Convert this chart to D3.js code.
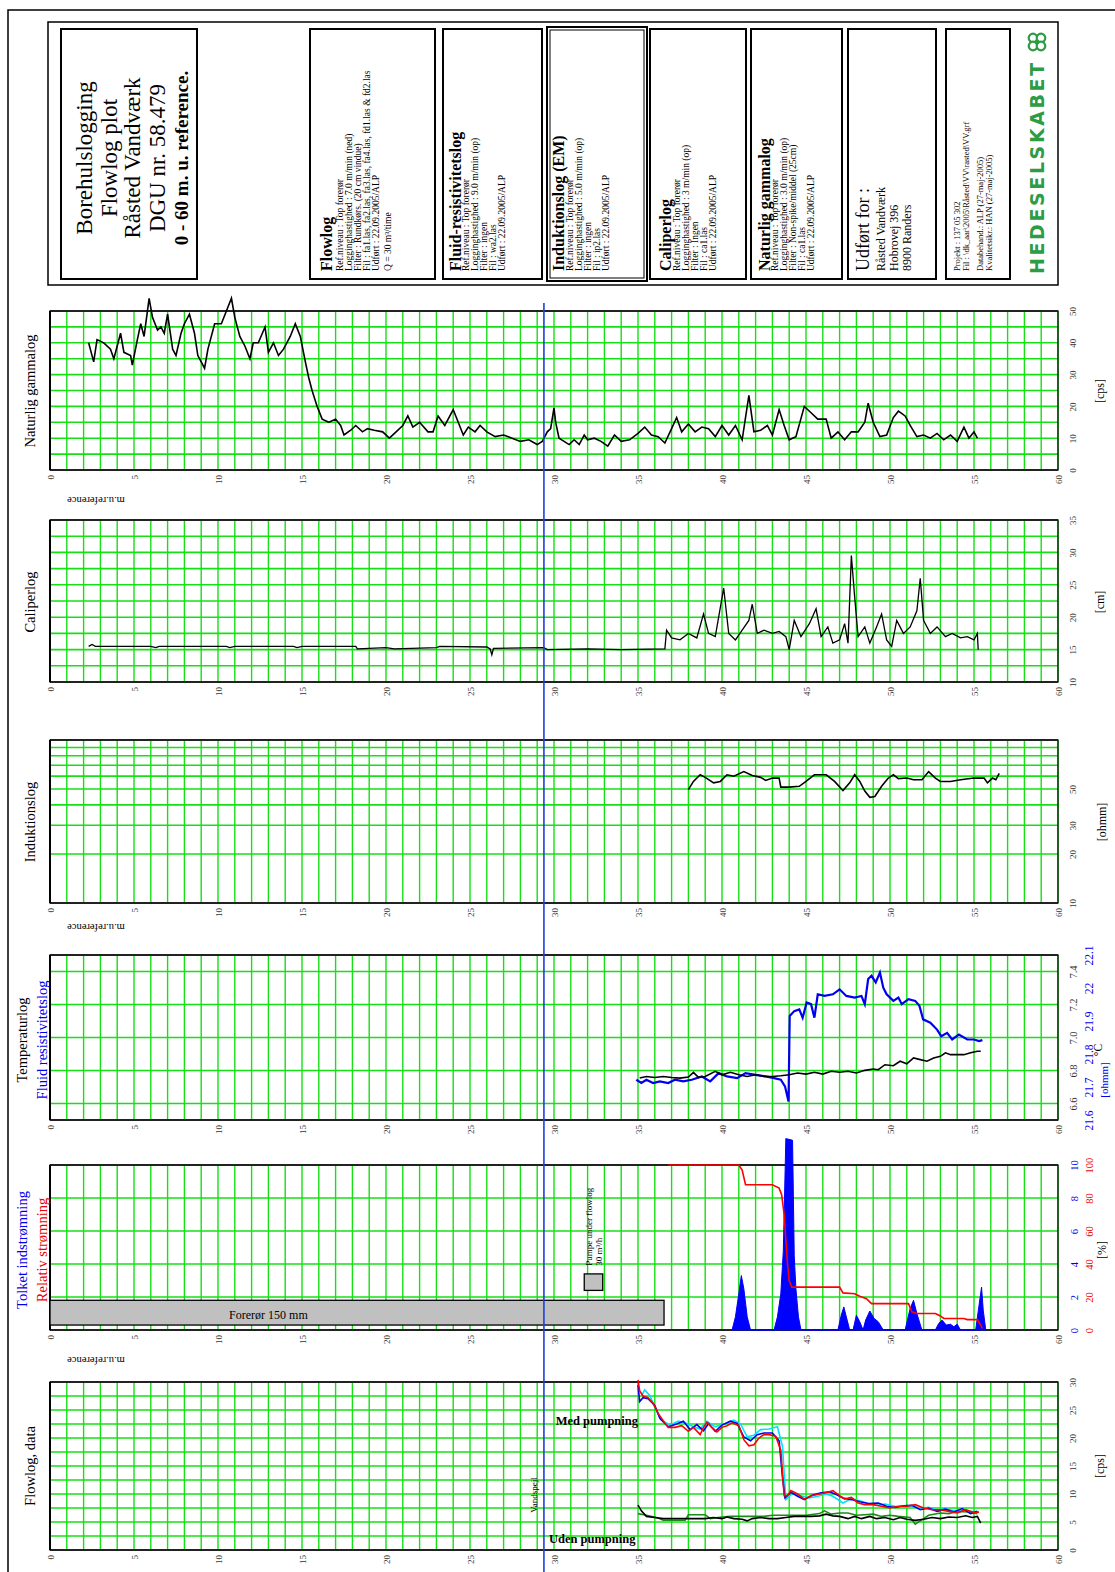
<!DOCTYPE html>
<html lang="da"><head><meta charset="utf-8">
<script src="https://cdn.jsdelivr.net/npm/d3@7/dist/d3.min.js"></script>
<style>
html,body{margin:0;padding:0;background:#fff;}
svg{display:block;}
</style></head><body>
<svg id="chart" width="1115" height="1572"></svg>
<script>
// ---------------- DATA ----------------
const depthTicks = [0,5,10,15,20,25,30,35,40,45,50,55,60];
const gammaTicks = [0,10,20,30,40,50];
const caliperTicks = [10,15,20,25,30,35];
const inductionTicks = [10,20,30,50];
const tempTicks = [6.6,6.8,7.0,7.2,7.4];
const fluidTicks = [21.6,21.7,21.8,21.9,22.0,22.1];
const inflowTicks = [0,2,4,6,8,10];
const relTicks = [0,20,40,60,80,100];
const flowTicks = [0,5,10,15,20,25,30];
const waterLevel = 29.4;

const titleLines = ["Borehulslogging","Flowlog plot","Råsted Vandværk","DGU nr. 58.479","0 - 60 m. u. reference."];
const flowlogInfo = ["Flowlog","Ref.niveau : Top forerør","Logginghastighed : 7.0 m/min (ned)","Filter : Rundkørs. (20 cm vindue)","Fil : fa1.las, fa2.las, fa3.las, fa4.las, fd1.las & fd2.las","Udført : 22.09.2005/ALP","Q = 30 m³/time"];
const fluidInfo = ["Fluid-resistivitetslog","Ref.niveau : Top forerør","Logginghastighed : 9.0 m/min (op)","Filter : ingen","Fil : wa2.las","Udført : 22.09.2005/ALP"];
const inductionInfo = ["Induktionslog (EM)","Ref.niveau : Top forerør","Logginghastighed : 5.0 m/min (op)","Filter : ingen","Fil : ip2.las","Udført : 22.09.2005/ALP"];
const caliperInfo = ["Caliperlog","Ref.niveau : Top forerør","Logginghastighed : 3 m/min (op)","Filter : Ingen","Fil : ca1.las","Udført : 22.09.2005/ALP"];
const gammaInfo = ["Naturlig gammalog","Ref.niveau : Top forerør","Logginghastighed : 3.0 m/min (op)","Filter : Non-spike/middel (25cm)","Fil : ca1.las","Udført : 22.09.2005/ALP"];
const clientInfo = ["Udført for :","Råsted Vandværk","Hobrovej 396","8900 Randers"];
const projectInfo = ["Projekt : 137 05 302","Fil : \\dk_aar\\2005\\Råsted\\VV\\rasted\\VV.grf","Databehand.: ALP (27-maj-2005)","Kvalitetsikr.: HAN (27-maj-2005)"];

const gammaLog = [[2.3,40],[2.4,38],[2.6,34],[2.8,41],[3.2,40],[3.6,38],[3.8,35],[4.0,39],[4.2,43],[4.4,37],[4.8,36],[4.9,33],[5.2,41],[5.4,46],[5.6,42],[5.9,54],[6.1,48],[6.4,44],[6.6,45],[6.8,43],[7.0,49],[7.3,38],[7.5,36],[7.8,43],[8.0,46],[8.3,49],[8.6,43],[8.8,36],[9.0,34],[9.2,32],[9.4,38],[9.8,46],[10.2,46],[10.5,50],[10.8,54],[11.0,48],[11.3,42],[11.6,39],[11.9,35],[12.1,40],[12.4,40],[12.8,45],[13.0,37],[13.3,40],[13.6,36],[13.9,38],[14.3,42],[14.6,46],[14.9,42],[15.2,34],[15.4,29],[15.6,25],[15.9,20],[16.2,16],[16.6,15],[17.0,16],[17.3,14],[17.5,11],[17.9,12.5],[18.2,14],[18.6,12],[18.9,13],[19.3,12.5],[19.8,12],[20.2,10],[20.6,12],[21.0,14],[21.3,17],[21.6,13.5],[22.0,15],[22.5,12],[22.8,12],[23.1,17],[23.5,14],[24.0,19],[24.3,15],[24.6,11],[24.9,13.5],[25.3,12],[25.6,14],[26.0,12],[26.5,10.5],[27.0,11],[27.5,10],[28.0,9],[28.5,9.5],[29.0,8],[29.3,9],[29.5,11],[29.6,12],[29.8,13],[30.0,19.5],[30.1,15],[30.3,10],[30.6,9],[30.9,8],[31.2,9.5],[31.5,8],[31.8,11],[32.0,9.5],[32.4,10],[32.8,9],[33.2,7.5],[33.6,11],[34.0,9],[34.5,9.5],[35.0,11.5],[35.4,13.5],[35.8,11],[36.2,10.5],[36.6,8.5],[37.0,13],[37.3,16.5],[37.6,12],[38.0,14.5],[38.4,12],[38.8,13.5],[39.2,13],[39.6,10.5],[40.0,14],[40.4,11],[40.8,14],[41.2,9.5],[41.6,23.5],[41.9,12],[42.3,12.5],[42.7,14],[43.0,11],[43.4,19],[43.7,14],[44.0,9.5],[44.4,10.5],[44.9,20],[45.3,18],[45.7,16],[46.2,16],[46.5,10],[46.9,12],[47.3,9.5],[47.7,12],[48.1,12],[48.5,15],[48.7,21],[49.0,15],[49.4,10.5],[49.8,11],[50.2,16.5],[50.5,18.5],[50.9,17],[51.2,14],[51.6,10.5],[52.0,11],[52.4,10],[52.8,11.5],[53.2,9.5],[53.6,11],[54.0,9],[54.4,13.5],[54.7,10],[55.0,12],[55.2,10]];

const caliperLog = [[2.3,15.5],[2.5,15.8],[2.7,15.5],[6.0,15.5],[6.3,15.3],[6.5,15.5],[10.5,15.5],[10.7,15.3],[11.0,15.5],[14.5,15.5],[14.7,15.3],[15.0,15.5],[18.2,15.5],[18.3,15.1],[20.0,15.3],[20.5,15.1],[23.0,15.3],[23.2,15.5],[26.0,15.4],[26.2,15.1],[26.3,14.2],[26.4,15.2],[29.4,15.3],[29.6,15.0],[32.0,15.1],[34.0,15.0],[36.6,15.1],[36.7,18.0],[37.0,16.8],[37.5,16.5],[38.0,17.5],[38.5,16.8],[38.9,20.5],[39.2,17.5],[39.6,17.0],[40.1,24.5],[40.4,17.5],[40.8,16.5],[41.2,18.0],[41.6,19.5],[41.8,22.0],[42.1,17.5],[42.5,18.0],[43.0,17.5],[43.4,17.8],[43.8,17.0],[44.0,15.0],[44.3,19.5],[44.7,17.0],[45.2,19.0],[45.6,21.3],[45.9,17.0],[46.3,18.5],[46.6,16.0],[47.0,16.5],[47.3,19.0],[47.5,16.0],[47.7,29.5],[47.9,23.0],[48.1,17.0],[48.5,18.5],[48.8,16.0],[49.2,18.5],[49.5,20.5],[49.8,16.5],[50.1,15.5],[50.4,19.5],[50.8,17.5],[51.2,18.5],[51.6,21.0],[51.8,26.0],[52.0,19.5],[52.4,17.5],[52.8,18.5],[53.3,17.0],[53.7,17.5],[54.2,16.8],[54.6,17.0],[55.0,16.5],[55.2,17.5],[55.25,15.0]];

const inductionLog = [[38.0,49.6],[38.3,55.7],[38.7,61.2],[39.0,59],[39.5,54.6],[39.9,55.7],[40.3,61.2],[40.7,60],[41.3,64],[41.8,60.5],[42.3,59],[42.6,56.5],[43.0,58.4],[43.4,58.4],[43.5,51.4],[44.0,51.4],[44.6,52],[45.0,55.7],[45.5,61.2],[46.2,61.2],[46.7,55.7],[47.2,49],[47.6,54.6],[47.9,61.2],[48.2,55.7],[48.5,48.6],[48.8,44.5],[49.1,45],[49.5,52],[49.9,58.4],[50.2,61.2],[50.5,58],[51.0,58.4],[51.4,57],[51.9,57],[52.3,64],[52.7,58.4],[53.0,55.7],[53.6,55.7],[54.2,57],[55.0,58.4],[55.6,58.4],[55.8,54.6],[56.1,58.4],[56.3,57],[56.5,62.5]];

const tempLog = [[35.1,6.754],[35.5,6.764],[36.0,6.758],[36.5,6.764],[37.0,6.758],[37.5,6.754],[38.0,6.760],[38.3,6.789],[38.6,6.758],[39.0,6.764],[39.6,6.795],[40.0,6.774],[40.5,6.789],[41.0,6.774],[41.5,6.764],[42.0,6.774],[42.5,6.764],[43.0,6.764],[43.5,6.768],[44.0,6.774],[44.5,6.785],[45.0,6.778],[45.5,6.789],[46.0,6.778],[46.5,6.795],[47.0,6.789],[47.5,6.795],[48.0,6.785],[48.5,6.801],[49.0,6.809],[49.3,6.805],[49.7,6.835],[50.2,6.829],[50.6,6.856],[51.0,6.841],[51.4,6.876],[51.8,6.866],[52.2,6.856],[52.6,6.876],[53.0,6.886],[53.3,6.907],[53.6,6.896],[54.0,6.896],[54.4,6.896],[54.8,6.907],[55.2,6.917],[55.4,6.917]];

const fluidLog = [[34.9,21.722],[35.2,21.712],[35.5,21.722],[35.9,21.712],[36.3,21.717],[36.8,21.712],[37.2,21.722],[37.7,21.717],[38.2,21.722],[38.8,21.732],[39.3,21.717],[39.8,21.742],[40.3,21.732],[40.9,21.727],[41.4,21.742],[42.0,21.737],[42.6,21.732],[43.1,21.727],[43.5,21.722],[43.75,21.702],[43.96,21.656],[44.03,21.915],[44.3,21.930],[44.6,21.935],[44.8,21.910],[45.04,21.956],[45.3,21.951],[45.5,21.910],[45.7,21.981],[46.1,21.976],[46.6,21.981],[47.0,21.996],[47.4,21.976],[47.9,21.971],[48.3,21.976],[48.5,21.951],[48.7,22.027],[48.9,22.037],[49.15,22.017],[49.4,22.047],[49.6,22.001],[49.8,21.981],[50.2,21.961],[50.5,21.971],[50.7,21.951],[51.1,21.966],[51.5,21.961],[51.75,21.946],[51.97,21.905],[52.4,21.895],[52.8,21.874],[53.05,21.854],[53.4,21.864],[53.7,21.844],[54.1,21.859],[54.6,21.844],[55.0,21.844],[55.3,21.839],[55.5,21.842]];

const inflowLog = [[40.6,0],[40.8,0.8],[41.0,2.2],[41.15,3.3],[41.3,2.5],[41.5,0.8],[41.7,0],[43.1,0],[43.3,0.8],[43.5,2.2],[43.65,4.8],[43.8,11.6],[44.2,11.5],[44.3,4.5],[44.4,2.5],[44.55,0.8],[44.7,0],[46.9,0],[47.1,0.9],[47.25,1.4],[47.45,0.6],[47.6,0],[47.8,0],[48.0,0.9],[48.2,0.5],[48.4,0],[48.55,0.6],[48.8,1.15],[49.05,0.7],[49.3,0.5],[49.6,0],[50.9,0],[51.2,1.3],[51.4,1.8],[51.6,1.0],[51.9,0],[52.7,0],[52.9,0.4],[53.1,0.6],[53.35,0.3],[53.6,0.35],[53.8,0.2],[54.0,0.35],[54.2,0],[55.1,0],[55.3,1.5],[55.45,2.6],[55.55,1.2],[55.7,0]];

const relFlowLog = [[36.8,100],[41.0,100],[41.2,97],[41.4,88],[43.0,88],[43.4,86],[43.55,82],[43.7,70],[43.8,55],[43.9,40],[44.0,30],[44.15,26],[47.0,26],[47.2,22.5],[47.9,22],[48.2,20.5],[48.6,19],[48.9,16],[51.1,16],[51.3,11],[51.6,10],[52.7,10],[53.0,8.5],[53.2,7],[54.4,7],[54.6,6.3],[55.2,6.3],[55.5,1]];

const casingDepth = [0,36.55];
const casingBand = [0.3,1.8];
const pumpDepth = [31.8,32.9];
const pumpBand = [2.4,3.4];

const flowRed = [[35.0,30.4],[35.1,28.4],[35.3,27.5],[35.6,27.2],[35.9,26.2],[36.2,24.4],[36.5,23.1],[36.8,21.9],[37.2,21.9],[37.6,22.2],[38.0,21.2],[38.3,21.9],[38.7,20.6],[38.9,21.9],[39.1,22.8],[39.4,21.9],[39.7,21.1],[40.0,21.9],[40.3,22.2],[40.6,22.7],[41.0,22.2],[41.3,19.7],[41.6,18.6],[41.9,18.8],[42.2,20.0],[42.5,20.6],[42.8,20.6],[43.2,20.3],[43.5,17.8],[43.7,9.7],[43.9,9.7],[44.1,10.6],[44.5,10.0],[44.9,9.1],[45.3,9.7],[45.8,10.0],[46.3,10.3],[46.6,10.6],[47.0,9.7],[47.3,9.1],[47.7,9.4],[48.1,8.4],[48.5,8.1],[49.0,8.1],[49.5,7.8],[50.0,7.5],[50.5,7.8],[51.0,7.8],[51.5,8.1],[52.0,7.5],[52.5,7.2],[53.0,7.2],[53.5,6.9],[54.0,6.6],[54.5,7.2],[55.0,6.7],[55.3,6.75]];
const flowBlue = [[35.0,29.5],[35.1,26.5],[35.3,27.2],[35.6,27.0],[36.0,25.8],[36.3,23.5],[36.8,22.0],[37.3,22.5],[37.7,23.0],[38.1,21.5],[38.5,22.4],[38.9,21.3],[39.2,22.6],[39.6,21.2],[40.0,22.3],[40.5,23.0],[40.9,22.6],[41.3,20.2],[41.7,19.5],[42.1,20.6],[42.5,20.9],[43.0,20.9],[43.4,19.5],[43.6,13.0],[43.75,9.3],[44.1,10.3],[44.5,9.6],[44.9,9.0],[45.4,9.8],[45.9,10.2],[46.4,10.4],[46.8,9.9],[47.2,9.3],[47.7,9.0],[48.2,8.6],[48.7,8.3],[49.3,8.4],[49.8,7.8],[50.3,7.6],[50.8,7.9],[51.3,8.0],[51.8,7.2],[52.3,7.5],[52.8,6.9],[53.3,7.3],[53.8,6.8],[54.3,7.4],[54.8,6.5],[55.2,6.9]];
const flowCyan = [[35.2,27.5],[35.4,28.6],[35.7,27.6],[36.0,25.5],[36.4,23.2],[36.9,22.3],[37.4,23.0],[37.9,22.6],[38.3,22.0],[38.7,21.6],[39.1,23.0],[39.6,22.0],[40.2,22.6],[40.7,23.2],[41.1,22.5],[41.5,20.2],[41.9,20.5],[42.3,21.5],[42.8,21.6],[43.3,22.0],[43.6,18.5],[43.8,9.0],[44.2,10.1],[44.7,9.7],[45.2,9.3],[45.7,9.6],[46.2,10.0],[46.6,9.6],[47.2,8.4],[47.7,9.2],[48.2,8.8],[48.7,8.3],[49.2,8.0],[49.7,8.2],[50.3,7.8],[50.8,7.6],[51.3,7.9],[51.8,7.4],[52.3,7.6],[52.8,7.1],[53.3,7.4],[53.8,7.0],[54.3,7.1],[54.8,6.9],[55.3,6.8]];
const flowNoPumpBlack = [[35.0,8.0],[35.2,7.0],[35.5,6.0],[36.0,5.8],[36.5,5.6],[37.0,5.6],[37.5,5.6],[38.0,5.6],[38.5,5.6],[39.0,5.6],[39.5,5.8],[40.0,5.6],[40.3,5.9],[40.7,5.6],[41.2,5.5],[41.5,5.2],[41.8,5.6],[42.3,5.8],[42.8,5.6],[43.3,5.6],[43.8,5.8],[44.3,6.0],[44.8,6.0],[45.3,6.0],[45.8,6.1],[46.2,6.4],[46.6,6.1],[47.0,6.0],[47.5,5.6],[47.9,6.0],[48.3,5.6],[48.8,6.0],[49.2,5.6],[49.7,5.8],[50.2,5.4],[50.6,5.8],[51.0,5.5],[51.5,5.3],[52.0,5.5],[52.5,5.8],[53.0,5.6],[53.5,5.9],[54.0,5.8],[54.5,6.1],[54.9,5.8],[55.2,6.0],[55.4,4.8]];
const flowNoPumpGreen = [[35.0,6.5],[35.5,6.2],[36.2,5.7],[36.5,5.3],[37.5,5.3],[37.8,5.3],[38.0,6.3],[39.0,6.3],[39.3,5.6],[40.0,5.9],[40.5,6.0],[41.5,6.0],[42.5,6.0],[43.0,6.2],[44.0,6.2],[45.0,6.2],[45.8,6.5],[46.1,7.0],[46.5,6.4],[47.0,6.6],[47.5,6.6],[48.0,6.2],[48.5,6.3],[49.0,6.4],[49.5,6.0],[50.0,6.2],[50.5,6.0],[51.2,5.8],[51.5,4.6],[51.8,5.2],[52.3,6.2],[53.0,6.6],[53.5,6.5],[54.0,6.9],[54.7,6.8],[55.2,6.5]];

// ---------------- LAYOUT ----------------
const FONT = '"Liberation Serif","Times New Roman",serif';
const GREEN = '#14e014';
const svg = d3.select('#chart');
const X = d3.scaleLinear().domain([0,60]).range([50,1058]);
const P = {
  gamma:{top:311,bottom:470}, caliper:{top:520,bottom:682}, induction:{top:740,bottom:903},
  temp:{top:955,bottom:1120}, tolket:{top:1165,bottom:1330}, flow:{top:1382,bottom:1550}
};

function vtext(p,x,y,s,o={}){
  const t=p.append('text').attr('transform',`translate(${x},${y}) rotate(${o.rot||-90})`)
    .attr('text-anchor',o.anchor||'start').attr('dy',o.dy||'0.35em')
    .attr('font-size',o.size||9).attr('fill',o.fill||'#000').attr('font-family',o.family||FONT);
  if(o.bold) t.attr('font-weight','bold');
  if(o.ls) t.attr('letter-spacing',o.ls);
  t.text(s); return t;
}

// outer frame
svg.append('path').attr('d','M8,1572 V10 H1115').attr('fill','none').attr('stroke','#000').attr('stroke-width',1.5);

// ---------------- HEADER ----------------
const H = svg.append('g');
H.append('rect').attr('x',48).attr('y',22).attr('width',1010).attr('height',263).attr('fill','none').attr('stroke','#000').attr('stroke-width',1.5);
const hdrBoxes = [[61,29,136,250],[310,29,125,250],[443,29,99,250],[547,27,100,254],[650,29,96,250],[751,29,91,250],[848,29,88,250],[946,29,64,250]];
hdrBoxes.forEach((b,i)=>{
  H.append('rect').attr('x',b[0]).attr('y',b[1]).attr('width',b[2]).attr('height',b[3]).attr('fill','none').attr('stroke','#000').attr('stroke-width',2);
  if(i===3) H.append('rect').attr('x',b[0]+3).attr('y',b[1]+3).attr('width',b[2]-6).attr('height',b[3]-6).attr('fill','none').attr('stroke','#000').attr('stroke-width',1);
});
const titleX = [84,109,132,157,181];
titleLines.forEach((s,i)=>vtext(H,titleX[i],158,s,{anchor:'middle',size:i<4?23:19,bold:i===4}));

function infoBox(lines,xs,y){
  lines.forEach((s,i)=>vtext(H,xs[i],y,s,{size:i===0?16:9.5,bold:i===0}));
}
infoBox(flowlogInfo,[326,340,349,358,367,376,388],271);
infoBox(fluidInfo,[455,466,475,484,493,502],271);
infoBox(inductionInfo,[558,570,579,588,597,606],271);
infoBox(caliperInfo,[665,677,686,695,704,713],271);
infoBox(gammaInfo,[764,775,784,793,802,811],271);
clientInfo.forEach((s,i)=>vtext(H,[863,881,894,907][i],271,s,{size:i===0?18:12}));
projectInfo.forEach((s,i)=>vtext(H,[957,966,980,989][i],271,s,{size:8.5}));
vtext(H,1037,274,'HEDESELSKABET',{size:19,bold:true,fill:'#2e9b45',family:'"DejaVu Sans",sans-serif',ls:2.6});
const logo = H.append('g').attr('transform','translate(1037,42)');
[[-4,-4],[4,-4],[-4,4],[4,4]].forEach(o=>logo.append('circle').attr('cx',o[0]).attr('cy',o[1]).attr('r',4.3).attr('fill','#fff').attr('stroke','#2e9b45').attr('stroke-width',2.2));
logo.append('circle').attr('r',2).attr('fill','#2e9b45');

// ---------------- PANELS ----------------
function panel(p, y, hgrid){
  const g = svg.append('g');
  g.selectAll('line.v').data(d3.range(0,61,1)).join('line').attr('class','v')
    .attr('x1',d=>X(d)).attr('x2',d=>X(d)).attr('y1',p.top).attr('y2',p.bottom)
    .attr('stroke',GREEN).attr('stroke-width',1.4);
  g.selectAll('line.h').data(hgrid).join('line').attr('class','h')
    .attr('x1',X(0)).attr('x2',X(60)).attr('y1',d=>y(d)).attr('y2',d=>y(d))
    .attr('stroke',GREEN).attr('stroke-width',1.6);
  g.append('rect').attr('x',X(0)).attr('y',p.top).attr('width',X(60)-X(0)).attr('height',p.bottom-p.top)
    .attr('fill','none').attr('stroke','#000').attr('stroke-width',1.2);
  g.append('line').attr('x1',X(0)).attr('x2',X(60)).attr('y1',p.top).attr('y2',p.top).attr('stroke','#222').attr('stroke-width',2.2);
  g.append('line').attr('x1',X(0)).attr('x2',X(60)).attr('y1',p.bottom).attr('y2',p.bottom).attr('stroke','#222').attr('stroke-width',2.2);
  g.append('line').attr('x1',X(0)).attr('x2',X(0)).attr('y1',p.top).attr('y2',p.bottom).attr('stroke','#000').attr('stroke-width',2);
  const ax = svg.append('g').attr('transform',`translate(0,${p.bottom})`)
    .call(d3.axisBottom(X).tickValues(depthTicks).tickSize(0).tickFormat(d3.format('d')));
  ax.select('.domain').remove();
  ax.selectAll('text').attr('y',0).attr('x',-5).attr('dy','0.35em').attr('transform','rotate(-90)')
    .attr('text-anchor','end').attr('font-size',9).attr('fill','#333').attr('font-family',FONT);
  return g;
}
function rightAxis(y, vals, fmt, xpos, color, size){
  const ax = svg.append('g').attr('transform',`translate(${xpos},0)`)
    .call(d3.axisRight(y).tickValues(vals).tickSize(0).tickFormat(fmt));
  ax.select('.domain').remove();
  ax.selectAll('text').attr('x',0).attr('dy','0.35em').attr('transform','rotate(-90)')
    .attr('text-anchor','middle').attr('fill',color).attr('font-size',size).attr('font-family',FONT);
}
function mref(bottom){
  svg.append('text').attr('transform',`translate(96,${bottom+31}) rotate(180)`).attr('text-anchor','middle')
    .attr('dy','0.35em').attr('font-size',10.5).attr('font-family',FONT).text('m.u.reference');
}
const lineGen = y => d3.line().x(d=>X(d[0])).y(d=>y(d[1]));

// Gamma
const gY = d3.scaleLinear().domain([0,50]).range([P.gamma.bottom,P.gamma.top]);
panel(P.gamma,gY,d3.range(5,50,5));
rightAxis(gY,gammaTicks,d3.format('d'),1073,'#333',9);
svg.append('path').datum(gammaLog).attr('d',lineGen(gY)).attr('fill','none').attr('stroke','#000').attr('stroke-width',1.6);
vtext(svg,30,391,'Naturlig gammalog',{anchor:'middle',size:14.5});
vtext(svg,1100,391,'[cps]',{anchor:'middle',size:12});
mref(P.gamma.bottom);

// Caliper
const cY = d3.scaleLinear().domain([10,35]).range([P.caliper.bottom,P.caliper.top]);
panel(P.caliper,cY,d3.range(12.5,35,2.5));
rightAxis(cY,caliperTicks,d3.format('d'),1073,'#333',9);
svg.append('path').datum(caliperLog).attr('d',lineGen(cY)).attr('fill','none').attr('stroke','#000').attr('stroke-width',1.3);
vtext(svg,30,602,'Caliperlog',{anchor:'middle',size:14.5});
vtext(svg,1100,602,'[cm]',{anchor:'middle',size:12});

// Induction
const iY = d3.scaleLog().domain([10,100]).range([P.induction.bottom,P.induction.top]);
panel(P.induction,iY,[20,30,40,50,60,70,80,90]);
rightAxis(iY,inductionTicks,d3.format('d'),1073,'#333',9);
svg.append('path').datum(inductionLog).attr('d',lineGen(iY)).attr('fill','none').attr('stroke','#000').attr('stroke-width',1.6);
vtext(svg,30,822,'Induktionslog',{anchor:'middle',size:14.5});
vtext(svg,1102,822,'[ohmm]',{anchor:'middle',size:12});
mref(P.induction.bottom - 6);

// Temperature / fluid resistivity
const tY = d3.scaleLinear().domain([6.5,7.5]).range([P.temp.bottom,P.temp.top]);
const fY = d3.scaleLinear().domain([21.6,22.1]).range([P.temp.bottom,P.temp.top]);
panel(P.temp,tY,tempTicks);
rightAxis(tY,tempTicks,d3.format('.1f'),1073,'#333',10.5);
rightAxis(fY,fluidTicks,d=>String(+d.toFixed(1)),1089,'#0000ee',11.5);
svg.append('path').datum(fluidLog).attr('d',lineGen(fY)).attr('fill','none').attr('stroke','#0000ee').attr('stroke-width',2.2);
svg.append('path').datum(tempLog).attr('d',lineGen(tY)).attr('fill','none').attr('stroke','#000').attr('stroke-width',1.6);
vtext(svg,22,1040,'Temperaturlog',{anchor:'middle',size:14.5});
vtext(svg,42,1040,'Fluid resistivitetslog',{anchor:'middle',size:14.5,fill:'#0000ee'});
vtext(svg,1098,1050,'°C',{anchor:'middle',size:11.5});
vtext(svg,1104,1080,'[ohmm]',{anchor:'middle',size:11,fill:'#0000ee'});

// Tolket indstrømning / relativ strømning
const qY = d3.scaleLinear().domain([0,10]).range([P.tolket.bottom,P.tolket.top]);
const rY = d3.scaleLinear().domain([0,100]).range([P.tolket.bottom,P.tolket.top]);
panel(P.tolket,qY,[2,4,6,8]);
rightAxis(qY,inflowTicks,d3.format('d'),1074,'#0000ee',10.5);
rightAxis(rY,relTicks,d3.format('d'),1089,'#ee0000',10.5);
svg.append('rect').attr('x',X(casingDepth[0])).attr('width',X(casingDepth[1])-X(casingDepth[0]))
  .attr('y',qY(casingBand[1])).attr('height',qY(casingBand[0])-qY(casingBand[1]))
  .attr('fill','#c0c0c0').attr('stroke','#000').attr('stroke-width',1.3);
svg.append('text').attr('x',X(13)).attr('y',qY(0.9)+4).attr('text-anchor','middle').attr('font-size',12).attr('font-family',FONT).text('Forerør 150 mm');
svg.append('rect').attr('x',X(pumpDepth[0])).attr('width',X(pumpDepth[1])-X(pumpDepth[0]))
  .attr('y',qY(pumpBand[1])).attr('height',qY(pumpBand[0])-qY(pumpBand[1]))
  .attr('fill','#c0c0c0').attr('stroke','#000').attr('stroke-width',1.3);
vtext(svg,X(32.1),qY(3.9),'Pumpe under flowlog',{size:9});
vtext(svg,X(32.65),qY(3.9),'30 m³/h',{size:9});
svg.append('path').datum(inflowLog).attr('d',d3.area().x(d=>X(d[0])).y0(qY(0)).y1(d=>qY(d[1]))).attr('fill','#0000ff').attr('stroke','#0000ff').attr('stroke-width',1);
svg.append('path').datum(relFlowLog).attr('d',lineGen(rY)).attr('fill','none').attr('stroke','#ff0000').attr('stroke-width',1.6);
vtext(svg,22,1250,'Tolket indstrømning',{anchor:'middle',size:14.5,fill:'#0000ee'});
vtext(svg,42,1250,'Relativ strømning',{anchor:'middle',size:14.5,fill:'#ee0000'});
vtext(svg,1102,1250,'[%]',{anchor:'middle',size:12});
mref(P.tolket.bottom);

// Flowlog data
const wY = d3.scaleLinear().domain([0,30]).range([P.flow.bottom,P.flow.top]);
panel(P.flow,wY,d3.range(2.5,30,2.5));
rightAxis(wY,flowTicks,d3.format('d'),1073,'#333',9);
[[flowNoPumpGreen,'#1a8a1a'],[flowNoPumpBlack,'#000'],[flowCyan,'#00e0ff'],[flowBlue,'#0000ee'],[flowRed,'#ff0000']].forEach(s=>{
  svg.append('path').datum(s[0]).attr('d',lineGen(wY)).attr('fill','none').attr('stroke',s[1]).attr('stroke-width',1.6);
});
svg.append('text').attr('x',X(30.1)).attr('y',wY(22.3)).attr('font-size',12.5).attr('font-weight','bold').attr('font-family',FONT).text('Med pumpning');
svg.append('text').attr('x',X(29.7)).attr('y',wY(1.3)).attr('font-size',12.5).attr('font-weight','bold').attr('font-family',FONT).text('Uden pumpning');
vtext(svg,X(waterLevel)-10,1495,'Vandspejl',{anchor:'middle',size:9});
vtext(svg,30,1466,'Flowlog, data',{anchor:'middle',size:14.5});
vtext(svg,1100,1466,'[cps]',{anchor:'middle',size:12});

// Water level line
svg.append('line').attr('x1',X(waterLevel)).attr('x2',X(waterLevel)).attr('y1',303).attr('y2',1572)
  .attr('stroke','#1f3fe0').attr('stroke-width',1.6);
</script></body></html>
